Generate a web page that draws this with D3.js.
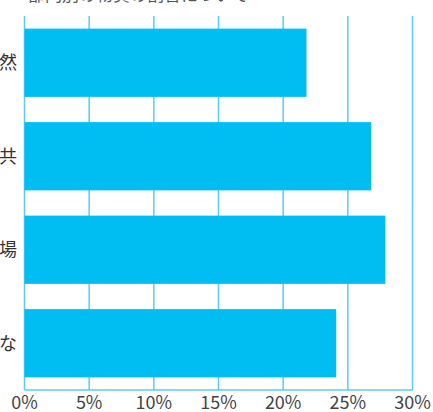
<!DOCTYPE html>
<html>
<head>
<meta charset="utf-8">
<script src="https://cdn.jsdelivr.net/npm/d3@7"></script>
<style>
  body { margin: 0; background: #fff; }
  svg { display: block; font-family: "Noto Sans CJK JP", "Noto Sans", sans-serif; }
</style>
</head>
<body>
<svg id="chart" width="433" height="412"></svg>
<script>
// values (percent)
const categories = ["自然", "公共", "職場", "みんな"];
const shares = [21.8, 26.8, 27.9, 24.1];
const ticks = [0, 5, 10, 15, 20, 25, 30];
const title = "部門別の物質の割合について";

const svg = d3.select("#chart");
const plotLeft = 24.5, plotRight = 412.5, plotTop = 16, plotBottom = 390;

const xScale = d3.scaleLinear().domain([0, 30]).range([plotLeft, plotRight]);
const yScale = d3.scaleBand()
  .domain(categories)
  .range([plotTop, plotBottom])
  .paddingInner(0.27)
  .paddingOuter(0.135);

// title, mostly above the visible area (cropped in the reference)
svg.append("text")
  .attr("x", 28).attr("y", 1)
  .attr("font-size", 17)
  .attr("fill", "#555")
  .text(title);

// vertical grid lines
svg.append("g")
  .selectAll("line")
  .data(ticks)
  .join("line")
  .attr("x1", d => xScale(d)).attr("x2", d => xScale(d))
  .attr("y1", plotTop).attr("y2", plotBottom)
  .attr("stroke", "#5cccf2")
  .attr("stroke-width", 1.5);

// baseline
svg.append("line")
  .attr("x1", plotLeft).attr("x2", plotRight)
  .attr("y1", plotBottom).attr("y2", plotBottom)
  .attr("stroke", "#5cccf2")
  .attr("stroke-width", 1.5);

// bars
svg.append("g")
  .selectAll("rect")
  .data(categories)
  .join("rect")
  .attr("x", xScale(0))
  .attr("y", d => yScale(d))
  .attr("width", (d, i) => xScale(shares[i]) - xScale(0))
  .attr("height", yScale.bandwidth())
  .attr("fill", "#00bdf2");

// category labels (cropped at the left edge, as in the reference)
svg.append("g")
  .selectAll("text")
  .data(categories)
  .join("text")
  .attr("x", 17)
  .attr("y", d => yScale(d) + yScale.bandwidth() / 2)
  .attr("dy", "0.35em")
  .attr("text-anchor", "end")
  .attr("font-size", 18)
  .attr("fill", "#333")
  .text(d => d);

// tick labels
svg.append("g")
  .selectAll("text")
  .data(ticks)
  .join("text")
  .attr("x", d => xScale(d))
  .attr("y", 409)
  .attr("text-anchor", "middle")
  .attr("font-size", 18)
  .attr("fill", "#444")
  .text(d => d + "%");
</script>
</body>
</html>
